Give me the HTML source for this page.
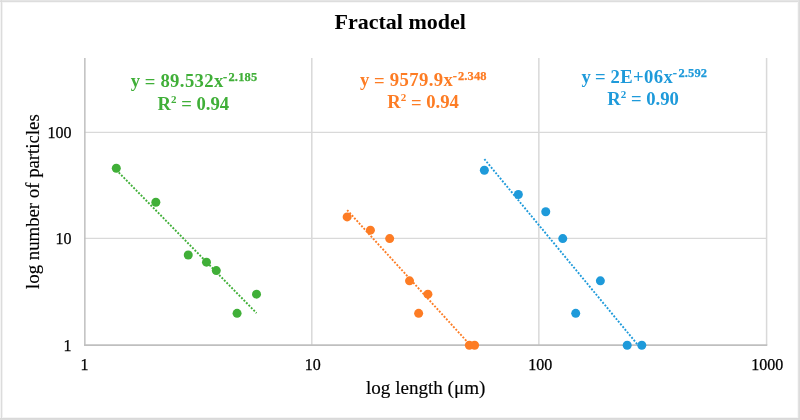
<!DOCTYPE html>
<html><head><meta charset="utf-8"><style>
html,body{margin:0;padding:0;background:#fff;}
body{width:800px;height:420px;overflow:hidden;}
svg{display:block;will-change:transform;}
text{font-family:"Liberation Serif",serif;}
.tk{font-size:16px;fill:#000;stroke:#000;stroke-width:0.25px;}
.eq{font-size:18.67px;font-weight:bold;}
.sup{font-size:12.44px;}
.ttl{font-size:22px;font-weight:bold;fill:#000;}
.at{font-size:18.67px;fill:#000;stroke:#000;stroke-width:0.15px;}
</style></head><body>
<svg width="800" height="420" viewBox="0 0 800 420">
<defs><clipPath id="pc"><rect x="84.5" y="58" width="682.0" height="287"/></clipPath></defs>
<rect x="0" y="0" width="800" height="420" fill="#fff"/>
<g shape-rendering="crispEdges">
<rect x="0" y="2" width="800" height="1" fill="#F7F7F7"/>
<rect x="2" y="0" width="1" height="420" fill="#F2F2F2"/>
<rect x="797" y="0" width="1" height="420" fill="#F8F8F8"/>
<rect x="0" y="417" width="800" height="1" fill="#F5F5F5"/>
<rect x="0" y="0" width="1" height="420" fill="#F4F4F4"/>
<rect x="0" y="0" width="800" height="1" fill="#E5E5E5"/>
<rect x="0" y="1" width="800" height="1" fill="#DDDDDD"/>
<rect x="1" y="0" width="1" height="420" fill="#DCDCDC"/>
<rect x="798" y="0" width="1" height="420" fill="#E2E2E2"/>
<rect x="799" y="0" width="1" height="420" fill="#DCDCDC"/>
<rect x="0" y="418" width="800" height="1" fill="#D9D9D9"/>
<rect x="0" y="419" width="800" height="1" fill="#DCDCDC"/>
</g>
<text x="400.15" y="28.9" text-anchor="middle" class="ttl">Fractal model</text>
<line x1="311.8" y1="58" x2="311.8" y2="345" stroke="#D9D9D9" stroke-width="1.5"/><line x1="538.85" y1="58" x2="538.85" y2="345" stroke="#D9D9D9" stroke-width="1.5"/><line x1="766.6" y1="58" x2="766.6" y2="345" stroke="#D9D9D9" stroke-width="1.5"/><line x1="84" y1="132.4" x2="767" y2="132.4" stroke="#D9D9D9" stroke-width="1.3"/><line x1="84" y1="238.45" x2="767" y2="238.45" stroke="#D9D9D9" stroke-width="1.3"/>
<line x1="84.85" y1="58" x2="84.85" y2="345.9" stroke="#BFBFBF" stroke-width="1.5"/><line x1="84.1" y1="345.1" x2="767.3" y2="345.1" stroke="#BFBFBF" stroke-width="1.6"/>
<text x="71.5" y="350.9" text-anchor="end" class="tk">1</text><text x="71.5" y="244.0" text-anchor="end" class="tk">10</text><text x="71.5" y="137.9" text-anchor="end" class="tk">100</text><text x="84.6" y="369.6" text-anchor="middle" class="tk">1</text><text x="312.7" y="369.6" text-anchor="middle" class="tk">10</text><text x="540.3" y="369.6" text-anchor="middle" class="tk">100</text><text x="767.3" y="369.6" text-anchor="middle" class="tk">1000</text>
<text transform="translate(38.9,201.6) rotate(-90)" text-anchor="middle" class="at" style="font-size:18.8px">log number of particles</text>
<text x="425.7" y="394.4" text-anchor="middle" class="at" style="font-size:19.1px">log length (μm)</text>
<path d="M116.30,169.96 L118.64,172.34 L120.97,174.73 L123.31,177.11 L125.65,179.50 L127.98,181.88 L130.32,184.27 L132.66,186.66 L134.99,189.04 L137.33,191.43 L139.67,193.81 L142.00,196.20 L144.34,198.58 L146.68,200.97 L149.01,203.35 L151.35,205.74 L153.69,208.12 L156.03,210.51 L158.36,212.89 L160.70,215.28 L163.04,217.66 L165.37,220.05 L167.71,222.43 L170.05,224.82 L172.38,227.21 L174.72,229.59 L177.06,231.98 L179.39,234.36 L181.73,236.75 L184.07,239.13 L186.40,241.52 L188.74,243.90 L191.08,246.29 L193.41,248.67 L195.75,251.06 L198.09,253.44 L200.42,255.83 L202.76,258.21 L205.10,260.60 L207.44,262.98 L209.77,265.37 L212.11,267.75 L214.45,270.14 L216.78,272.53 L219.12,274.91 L221.46,277.30 L223.79,279.68 L226.13,282.07 L228.47,284.45 L230.80,286.84 L233.14,289.22 L235.48,291.61 L237.81,293.99 L240.15,296.38 L242.49,298.76 L244.82,301.15 L247.16,303.53 L249.50,305.92 L251.83,308.30 L254.17,310.69 L256.51,313.08" fill="none" stroke="#40AF38" stroke-width="1.9" stroke-dasharray="1.9 1.6" clip-path="url(#pc)"/><path d="M347.15,210.07 L349.27,212.40 L351.40,214.73 L353.52,217.06 L355.64,219.39 L357.77,221.72 L359.89,224.05 L362.02,226.38 L364.14,228.71 L366.27,231.04 L368.39,233.37 L370.51,235.70 L372.64,238.03 L374.76,240.36 L376.89,242.69 L379.01,245.02 L381.14,247.35 L383.26,249.68 L385.38,252.01 L387.51,254.34 L389.63,256.67 L391.76,259.00 L393.88,261.33 L396.01,263.66 L398.13,265.99 L400.25,268.32 L402.38,270.65 L404.50,272.98 L406.63,275.31 L408.75,277.64 L410.88,279.97 L413.00,282.30 L415.12,284.63 L417.25,286.96 L419.37,289.30 L421.50,291.63 L423.62,293.96 L425.75,296.29 L427.87,298.62 L429.99,300.95 L432.12,303.28 L434.24,305.61 L436.37,307.94 L438.49,310.27 L440.62,312.60 L442.74,314.93 L444.86,317.26 L446.99,319.59 L449.11,321.92 L451.24,324.25 L453.36,326.58 L455.49,328.91 L457.61,331.24 L459.73,333.57 L461.86,335.90 L463.98,338.23 L466.11,340.56 L468.23,342.89 L470.36,345.22 L472.48,347.55 L474.60,349.88" fill="none" stroke="#FD7C24" stroke-width="1.9" stroke-dasharray="1.9 1.6" clip-path="url(#pc)"/><path d="M484.36,159.05 L486.98,162.23 L489.61,165.41 L492.23,168.58 L494.86,171.76 L497.48,174.94 L500.10,178.12 L502.73,181.29 L505.35,184.47 L507.98,187.65 L510.60,190.83 L513.22,194.00 L515.85,197.18 L518.47,200.36 L521.10,203.54 L523.72,206.71 L526.34,209.89 L528.97,213.07 L531.59,216.25 L534.22,219.42 L536.84,222.60 L539.46,225.78 L542.09,228.95 L544.71,232.13 L547.34,235.31 L549.96,238.49 L552.58,241.66 L555.21,244.84 L557.83,248.02 L560.46,251.20 L563.08,254.37 L565.71,257.55 L568.33,260.73 L570.95,263.91 L573.58,267.08 L576.20,270.26 L578.83,273.44 L581.45,276.62 L584.07,279.79 L586.70,282.97 L589.32,286.15 L591.95,289.33 L594.57,292.50 L597.19,295.68 L599.82,298.86 L602.44,302.03 L605.07,305.21 L607.69,308.39 L610.31,311.57 L612.94,314.74 L615.56,317.92 L618.19,321.10 L620.81,324.28 L623.43,327.45 L626.06,330.63 L628.68,333.81 L631.31,336.99 L633.93,340.16 L636.55,343.34 L639.18,346.52 L641.80,349.70" fill="none" stroke="#1E9ADA" stroke-width="1.9" stroke-dasharray="1.9 1.6" clip-path="url(#pc)"/>
<circle cx="116.30" cy="168.22" r="4.5" fill="#40AF38"/><circle cx="155.85" cy="202.23" r="4.5" fill="#40AF38"/><circle cx="188.25" cy="255.05" r="4.5" fill="#40AF38"/><circle cx="206.48" cy="262.16" r="4.5" fill="#40AF38"/><circle cx="216.30" cy="270.57" r="4.5" fill="#40AF38"/><circle cx="237.08" cy="313.35" r="4.5" fill="#40AF38"/><circle cx="256.51" cy="294.13" r="4.5" fill="#40AF38"/><circle cx="347.15" cy="216.92" r="4.5" fill="#FD7C24"/><circle cx="370.41" cy="230.19" r="4.5" fill="#FD7C24"/><circle cx="389.68" cy="238.60" r="4.5" fill="#FD7C24"/><circle cx="409.53" cy="280.86" r="4.5" fill="#FD7C24"/><circle cx="418.64" cy="313.35" r="4.5" fill="#FD7C24"/><circle cx="427.90" cy="294.13" r="4.5" fill="#FD7C24"/><circle cx="469.34" cy="345.25" r="4.5" fill="#FD7C24"/><circle cx="474.60" cy="345.25" r="4.5" fill="#FD7C24"/><circle cx="484.36" cy="170.27" r="4.5" fill="#1E9ADA"/><circle cx="518.36" cy="194.53" r="4.5" fill="#1E9ADA"/><circle cx="545.75" cy="211.80" r="4.5" fill="#1E9ADA"/><circle cx="562.76" cy="238.60" r="4.5" fill="#1E9ADA"/><circle cx="575.71" cy="313.35" r="4.5" fill="#1E9ADA"/><circle cx="600.38" cy="280.86" r="4.5" fill="#1E9ADA"/><circle cx="627.19" cy="345.25" r="4.5" fill="#1E9ADA"/><circle cx="641.80" cy="345.25" r="4.5" fill="#1E9ADA"/>
<text class="eq" fill="#40AF38" y="87.3"><tspan x="130.82">y</tspan><tspan x="144.67" dy="0.6">=</tspan><tspan x="160.38" dy="-0.6" style="letter-spacing:0.4px">89.532x</tspan><tspan class="sup" x="223.04" dy="-6" style="stroke:#40AF38;stroke-width:0.25px">-</tspan><tspan class="sup" x="228.48" style="letter-spacing:0.17px;stroke:#40AF38;stroke-width:0.25px">2.185</tspan></text><text class="eq" fill="#40AF38" x="157.58" y="109.5">R<tspan style="font-size:11px" dy="-6.6">2</tspan><tspan dy="7.2"> =</tspan><tspan dy="-0.6"> 0.94</tspan></text><text class="eq" fill="#FD7C24" y="85.9"><tspan x="360.12">y</tspan><tspan x="373.97" dy="0.6">=</tspan><tspan x="389.79" dy="-0.6" style="letter-spacing:0.4px">9579.9x</tspan><tspan class="sup" x="452.64" dy="-6" style="stroke:#FD7C24;stroke-width:0.25px">-</tspan><tspan class="sup" x="457.88" style="letter-spacing:0.17px;stroke:#FD7C24;stroke-width:0.25px">2.348</tspan></text><text class="eq" fill="#FD7C24" x="387.28" y="108.0">R<tspan style="font-size:11px" dy="-6.6">2</tspan><tspan dy="7.2"> =</tspan><tspan dy="-0.6"> 0.94</tspan></text><text class="eq" fill="#1E9ADA" y="82.5"><tspan x="581.42">y</tspan><tspan x="594.97" dy="0.6">=</tspan><tspan x="610.52" dy="-0.6" style="letter-spacing:0.4px">2E+06x</tspan><tspan class="sup" x="672.64" dy="-6" style="stroke:#1E9ADA;stroke-width:0.25px">-</tspan><tspan class="sup" x="678.38" style="letter-spacing:0.17px;stroke:#1E9ADA;stroke-width:0.25px">2.592</tspan></text><text class="eq" fill="#1E9ADA" x="607.28" y="104.8">R<tspan style="font-size:11px" dy="-6.6">2</tspan><tspan dy="7.2"> =</tspan><tspan dy="-0.6"> 0.90</tspan></text>
</svg>
</body></html>
